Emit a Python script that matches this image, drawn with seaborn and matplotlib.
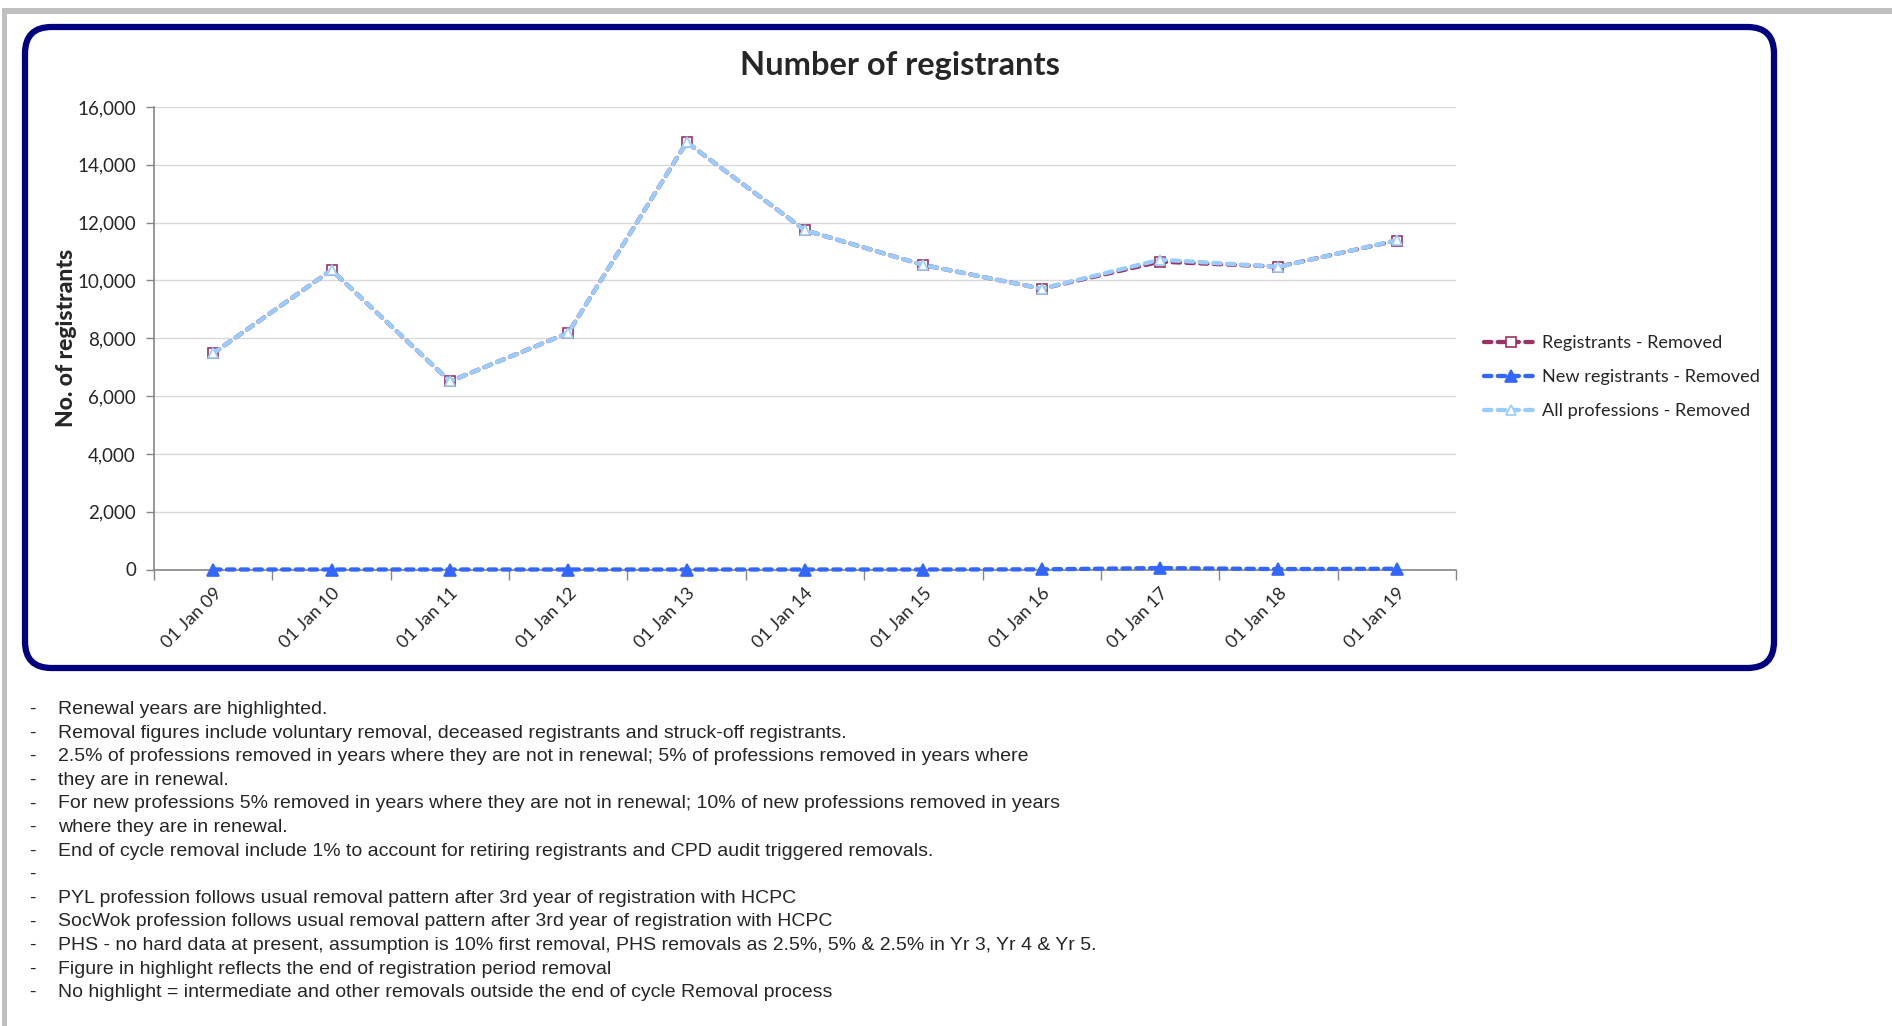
import numpy as np
import pandas as pd
import matplotlib
matplotlib.use("Agg")
import matplotlib.pyplot as plt
from matplotlib.patches import FancyBboxPatch, Rectangle
import seaborn as sns

# data
dates = ["01 Jan 09", "01 Jan 10", "01 Jan 11", "01 Jan 12", "01 Jan 13", "01 Jan 14",
         "01 Jan 15", "01 Jan 16", "01 Jan 17", "01 Jan 18", "01 Jan 19"]
registrants_removed = [7480, 10360, 6510, 8185, 14780, 11735, 10535, 9715, 10650, 10475, 11380]
new_registrants_removed = [0, 0, 0, 0, 0, 0, 0, 5, 50, 15, 25]
all_professions_removed = [7480, 10360, 6510, 8185, 14780, 11735, 10535, 9715, 10720, 10470, 11390]
y_ticks = [0, 2000, 4000, 6000, 8000, 10000, 12000, 14000, 16000]

notes = [
    "Renewal years are highlighted.",
    "Removal figures include voluntary removal, deceased registrants and struck-off registrants.",
    "2.5% of professions removed in years where they are not in renewal; 5% of professions removed in years where",
    "they are in renewal.",
    "For new professions 5% removed in years where they are not in renewal; 10% of new professions removed in years",
    "where they are in renewal.",
    "End of cycle removal include 1% to account for retiring registrants and CPD audit triggered removals.",
    "",
    "PYL profession follows usual removal pattern after 3rd year of registration with HCPC",
    "SocWok profession follows usual removal pattern after 3rd year of registration with HCPC",
    "PHS - no hard data at present, assumption is 10% first removal, PHS removals as 2.5%, 5% & 2.5% in Yr 3, Yr 4 & Yr 5.",
    "Figure in highlight reflects the end of registration period removal",
    "No highlight = intermediate and other removals outside the end of cycle Removal process",
]

df = pd.DataFrame({
    "pos": np.arange(len(dates)),
    "Registrants - Removed": registrants_removed,
    "New registrants - Removed": new_registrants_removed,
    "All professions - Removed": all_professions_removed,
})

sns.set_theme(style="white")
plt.rcParams["font.family"] = ["Lato", "DejaVu Sans"]

W, H = 1892, 1026
fig = plt.figure(figsize=(W / 100, H / 100), dpi=100)

# grey page frame and navy rounded chart box
fig.patches.append(Rectangle((2 / W, 1 - 14 / H), 1 - 2 / W, 6 / H, transform=fig.transFigure,
                             facecolor="#c0c0c0", edgecolor="none", zorder=-2))
fig.patches.append(Rectangle((2 / W, 0), 5 / W, 1 - 8 / H, transform=fig.transFigure,
                             facecolor="#c0c0c0", edgecolor="none", zorder=-2))
fig.patches.append(FancyBboxPatch((25 / W, 1 - 668 / H), 1749 / W, 641 / H,
                                  boxstyle="round,pad=0,rounding_size=0.014",
                                  transform=fig.transFigure, facecolor="white",
                                  edgecolor="#000080", linewidth=4.5, mutation_aspect=W / H,
                                  zorder=-1))

ax = fig.add_axes([154 / W, 1 - 569.5 / H, 1302 / W, 462.5 / H])
ax.set_zorder(2)
ax.patch.set_alpha(0)

series = [
    ("Registrants - Removed", "#993366", "s", 6.5, "white"),
    ("New registrants - Removed", "#3366FF", "^", 8, "#3366FF"),
    ("All professions - Removed", "#99CCFF", "^", 6.5, "white"),
]
for name, col, mk, ms, fc in series:
    sns.lineplot(data=df, x="pos", y=name, ax=ax, color=col, linewidth=3.1,
                 linestyle=(0, (1.7, 1.5)), dash_capstyle="round",
                 marker=mk, markersize=ms, markerfacecolor=fc, markeredgecolor=col,
                 markeredgewidth=1.2, label=name, clip_on=False, zorder=3)

ax.set_xlim(-0.5, len(dates) - 0.5)
ax.set_ylim(0, 16000)
ax.set_yticks(y_ticks)
ax.set_yticklabels([f"{v:,}" for v in y_ticks])
ax.set_xticks(np.arange(-0.5, len(dates)), labels=[])
ax.set_xticks(np.arange(len(dates)), labels=dates, minor=True)
ax.tick_params(axis="x", which="major", direction="out", length=7, width=1, color="#868686", bottom=True)
ax.tick_params(axis="x", which="minor", length=0, pad=11, labelsize=13)
ax.tick_params(axis="y", direction="out", length=6, width=1, color="#868686", left=True,
               labelsize=13.5, pad=7)
for lab in ax.get_xticklabels(minor=True):
    lab.set_rotation(45)
    lab.set_ha("right")
    lab.set_va("top")
    lab.set_rotation_mode("anchor")

ax.grid(axis="y", color="#d9d9d9", linewidth=1)
ax.grid(axis="x", visible=False)
for s in ["top", "right"]:
    ax.spines[s].set_visible(False)
for s in ["left", "bottom"]:
    ax.spines[s].set_color("#868686")
    ax.spines[s].set_linewidth(1.2)
ax.set_xlabel("")
ax.set_ylabel("No. of registrants", fontsize=16.5, fontweight="black", labelpad=0)
ax.get_legend().remove()

fig.text(900 / W, 1 - 65 / H, "Number of registrants", ha="center", va="center",
         fontsize=23.5, fontweight="bold")

handles, labels = ax.get_legend_handles_labels()
fig.legend(handles, labels, loc="upper left", bbox_to_anchor=(1484 / W, 1 - 335 / H),
           frameon=False, fontsize=13.1, handlelength=3.0, handletextpad=0.2,
           labelspacing=1.0, borderpad=0, borderaxespad=0, numpoints=1)

for i, line in enumerate(notes):
    y = 1 - (709.5 + i * 23.6) / H
    fig.text(29 / W, y, "-", ha="left", va="center", fontsize=14.0, family="Liberation Sans")
    fig.text(58 / W, y, line, ha="left", va="center", fontsize=14.0, family="Liberation Sans")

fig.savefig("out.png", dpi=100, facecolor="white")
